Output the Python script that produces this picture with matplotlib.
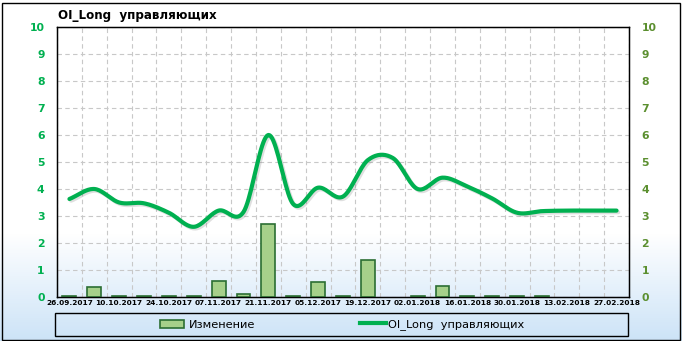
import matplotlib
matplotlib.use("Agg")
import matplotlib.pyplot as plt
import matplotlib.patheffects as pe
from matplotlib.patches import Rectangle
from matplotlib.lines import Line2D
import numpy as np

dates = ["26.09.2017", "03.10.2017", "10.10.2017", "17.10.2017", "24.10.2017",
         "31.10.2017", "07.11.2017", "14.11.2017", "21.11.2017", "28.11.2017",
         "05.12.2017", "12.12.2017", "19.12.2017", "26.12.2017", "02.01.2018",
         "09.01.2018", "16.01.2018", "23.01.2018", "30.01.2018", "06.02.2018",
         "13.02.2018", "20.02.2018", "27.02.2018"]

# Изменение (left axis)
change = [0.03, 0.37, 0.03, 0.03, 0.03, 0.03, 0.59, 0.12, 2.7, 0.03,
          0.55, 0.03, 1.37, np.nan, 0.03, 0.42, 0.03, 0.03, 0.03, 0.05,
          np.nan, np.nan, np.nan]

# OI_Long управляющих (right axis)
oi_long = [3.63, 4.0, 3.5, 3.47, 3.12, 2.6, 3.2, 3.15, 6.0, 3.44,
           4.05, 3.72, 5.07, 5.15, 4.0, 4.42, 4.09, 3.65, 3.12, 3.18,
           3.2, 3.2, 3.2]

green_left = "#00B050"
green_right = "#5B8F2F"
line_green = "#00B050"


def smooth(x, y, n=20):
    # catmull-rom, like the smoothed line in the original
    x = np.asarray(x, float)
    y = np.asarray(y, float)
    px = np.concatenate([[2 * x[0] - x[1]], x, [2 * x[-1] - x[-2]]])
    py = np.concatenate([[2 * y[0] - y[1]], y, [2 * y[-1] - y[-2]]])
    xs, ys = [], []
    t = np.linspace(0, 1, n, endpoint=False)
    for i in range(1, len(px) - 2):
        for p, out in ((px, xs), (py, ys)):
            p0, p1, p2, p3 = p[i - 1], p[i], p[i + 1], p[i + 2]
            out.extend(0.5 * (2 * p1 + (-p0 + p2) * t
                              + (2 * p0 - 5 * p1 + 4 * p2 - p3) * t ** 2
                              + (-p0 + 3 * p1 - 3 * p2 + p3) * t ** 3))
    xs.append(x[-1])
    ys.append(y[-1])
    return np.array(xs), np.array(ys)


fig = plt.figure(figsize=(6.82, 3.41), dpi=100)

# background gradient
bg = fig.add_axes([0, 0, 1, 1], zorder=-10)
bg.axis("off")
h = 341
grad = np.ones((h, 1, 3))
top = np.array([1.0, 1.0, 1.0])
bot = np.array([0.80, 0.89, 0.97])
for r in range(h):
    f = max(0.0, (r - 233) / (h - 233))
    grad[r, 0] = top + (bot - top) * f
bg.imshow(grad, aspect="auto", extent=[0, 1, 0, 1])
bg.set_xlim(0, 1)
bg.set_ylim(0, 1)

ax = fig.add_axes([57 / 682, 1 - 297 / 341, 572 / 682, 270 / 341])
ax.patch.set_alpha(0)
x = np.arange(len(dates))

ax.bar(x, change, width=0.56, color="#A6D08A", edgecolor="#2B6E33",
       linewidth=1.2, zorder=3, label="Изменение")

ax.set_xlim(-0.5, len(dates) - 0.5)
ax.set_ylim(0, 10)
ax.set_yticks(range(0, 11))
ax.set_xticks(x[::2])
ax.set_xticklabels(dates[::2], fontsize=5.3, fontweight="bold")
ax.set_xticks(np.arange(-0.5, len(dates), 1), minor=True)
ax.tick_params(axis="x", which="both", length=0, pad=2)
ax.tick_params(axis="y", length=0, pad=9, labelsize=7.8, labelcolor=green_left)
for lab in ax.get_yticklabels():
    lab.set_fontweight("bold")
ax.grid(True, axis="y", which="major", color="#C8C8C8", linestyle=(0, (4, 3)), linewidth=0.8)
ax.grid(True, axis="x", which="minor", color="#C8C8C8", linestyle=(0, (4, 3)), linewidth=0.8)
ax.set_axisbelow(True)
for s in ax.spines.values():
    s.set_color("black")
    s.set_linewidth(1)

ax2 = ax.twinx()
ax2.set_ylim(0, 10)
ax2.set_yticks(range(0, 11))
ax2.tick_params(axis="y", length=0, pad=9, labelsize=7.8, labelcolor=green_right)
for lab in ax2.get_yticklabels():
    lab.set_fontweight("bold")
sx, sy = smooth(x, oi_long)
ax2.plot(sx, sy, color=line_green, linewidth=3, solid_capstyle="round", zorder=4,
         path_effects=[pe.SimpleLineShadow(offset=(1.2, -1.2), shadow_color="gray", alpha=0.25),
                       pe.Normal()])

fig.text(58 / 682, 1 - 15 / 341, "OI_Long  управляющих", fontsize=8.6, fontweight="bold",
         va="center", ha="left")

# legend box
fig.patches.append(Rectangle((55 / 682, 1 - 336 / 341), 573 / 682, 23 / 341,
                             transform=fig.transFigure, fill=False, edgecolor="black",
                             linewidth=1))
h1 = Rectangle((0, 0), 1, 1, facecolor="#A6D08A", edgecolor="#2B6E33", linewidth=1.2)
h2 = Line2D([], [], color=line_green, linewidth=3)
fig.legend([h1], ["Изменение"], loc="center left", bbox_to_anchor=(160 / 682, 1 - 324.5 / 341),
           frameon=False, fontsize=8.2, handlelength=2.1, handletextpad=0.4, borderpad=0,
           borderaxespad=0)
fig.legend([h2], ["OI_Long  управляющих"], loc="center left",
           bbox_to_anchor=(360 / 682, 1 - 324.5 / 341),
           frameon=False, fontsize=8.2, handlelength=2.3, handletextpad=0.2, borderpad=0,
           borderaxespad=0)

# outer frame
fig.patches.append(Rectangle((1.5 / 682, 1.5 / 341), 678 / 682, 337 / 341,
                             transform=fig.transFigure, fill=False, edgecolor="black",
                             linewidth=1))

fig.savefig("out.png", dpi=100)
